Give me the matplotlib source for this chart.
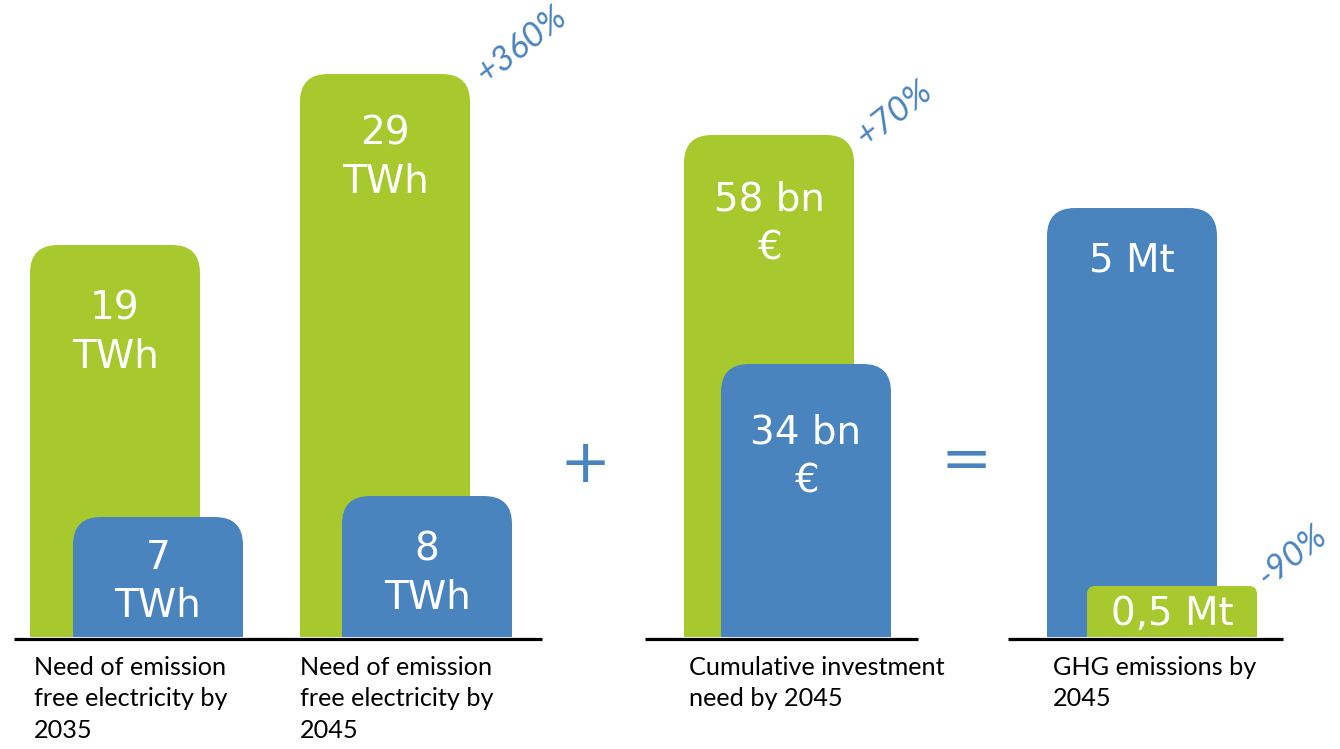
import matplotlib.pyplot as plt
from matplotlib.patches import FancyBboxPatch, Rectangle

GREEN = "#a8c92e"
BLUE = "#4a84be"

# bar values as printed, and their drawn heights (chart units, not to scale)
bar_labels = ["19\nTWh", "7\nTWh", "29\nTWh", "8\nTWh",
              "58 bn\n€", "34 bn\n€", "5 Mt", "0,5 Mt"]
bar_heights = [392, 120, 563, 141, 502, 273, 429, 51]
bar_colors = [GREEN, BLUE, GREEN, BLUE, GREEN, BLUE, BLUE, GREEN]

group_labels = [
    "Need of emission\nfree electricity by\n2035",
    "Need of emission\nfree electricity by\n2045",
    "Cumulative investment\nneed by 2045",
    "GHG emissions by\n2045",
]
change_labels = ["+360%", "+70%", "-90%"]

# layout (chart units = pixels, baseline at 0)
bar_left = [30, 73, 300, 342, 684, 721, 1047, 1087]
bar_width = 170
corner = [28, 28, 28, 28, 28, 28, 28, 8]
label_drop = [88, 65, 84, 78, 89, 93, 53, 28]
baselines = [(14, 542), (645, 918), (1008, 1283)]
group_label_x = [34, 300, 689, 1053]
change_pos = [(521, 592), (894, 523), (1292, 81)]

fig = plt.figure(figsize=(13.4, 7.49), dpi=100)
ax = fig.add_axes([0, 0, 1, 1])
ax.set_xlim(0, 1340)
ax.set_ylim(-112, 637)
ax.axis("off")

for x, h, c, r, lab, drop in zip(bar_left, bar_heights, bar_colors, corner,
                                 bar_labels, label_drop):
    ax.add_patch(FancyBboxPatch((x, 0), bar_width, h,
                                boxstyle=f"round,pad=0,rounding_size={r}",
                                facecolor=c, edgecolor="none"))
    ax.add_patch(Rectangle((x, 0), bar_width, h / 2, facecolor=c,
                           edgecolor="none"))
    ax.text(x + bar_width / 2, h - drop, lab, color="white", fontsize=28,
            ha="center", va="center", linespacing=1.36,
            family="DejaVu Sans")

for x0, x1 in baselines:
    ax.plot([x0, x1], [-1.5, -1.5], color="black", linewidth=2.3,
            solid_capstyle="butt", clip_on=False)

for x, lab in zip(group_label_x, group_labels):
    ax.text(x, -19, lab, fontsize=18.2, ha="left", va="top", linespacing=1.44,
            family="Lato", color="black")

for (x, y), lab in zip(change_pos, change_labels):
    ax.text(x, y, lab, fontsize=25, style="italic", color=BLUE, rotation=38,
            ha="center", va="center", rotation_mode="anchor", family="Lato")

ax.text(585, 637 - 465, "+", fontsize=44, color=BLUE, ha="center",
        va="center", family="DejaVu Sans")
ax.text(966, 637 - 462, "=", fontsize=44, color=BLUE, ha="center",
        va="center", family="DejaVu Sans")

fig.savefig("out.png", dpi=100)
